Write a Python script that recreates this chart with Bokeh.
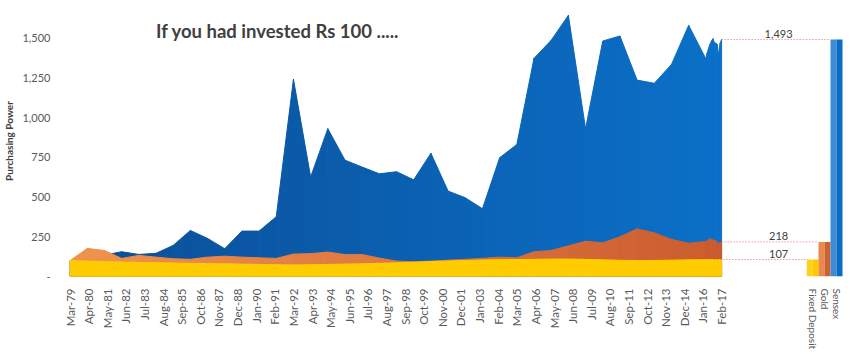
import math
from bokeh.plotting import figure
from bokeh.layouts import row
from bokeh.models import FixedTicker, Label, Range1d, NumeralTickFormatter
from bokeh.embed import file_html
from bokeh.resources import INLINE

# ---------------- data ----------------
tick_labels = ["Mar-79", "Apr-80", "May-81", "Jun-82", "Jul-83", "Aug-84", "Sep-85",
               "Oct-86", "Nov-87", "Dec-88", "Jan-90", "Feb-91", "Mar-92", "Apr-93",
               "May-94", "Jun-95", "Jul-96", "Aug-97", "Sep-98", "Oct-99", "Nov-00",
               "Dec-01", "Jan-03", "Feb-04", "Mar-05", "Apr-06", "May-07", "Jun-08",
               "Jul-09", "Aug-10", "Sep-11", "Oct-12", "Nov-13", "Dec-14", "Jan-16",
               "Feb-17"]

periods = [f"Mar-{y % 100:02d}" for y in range(1979, 2017)] + [
    "Apr-16", "May-16", "Jun-16", "Jul-16", "Aug-16", "Sep-16", "Oct-16",
    "Nov-16", "Dec-16", "Jan-17", "Feb-17"]

sensex = [100, 122, 135, 156, 139, 146, 196, 290, 240, 175,
          286, 286, 377, 1242, 626, 931, 733, 689, 647, 660,
          609, 776, 538, 496, 427, 748, 832, 1374, 1488, 1645,
          931, 1483, 1515, 1237, 1217, 1336, 1582, 1372,
          1410, 1440, 1465, 1485, 1498, 1473, 1470, 1460, 1393, 1470, 1493]

gold = [100, 177, 164, 114, 133, 122, 112, 108, 122, 128,
        122, 118, 114, 141, 144, 154, 138, 138, 116, 97,
        93, 97, 103, 108, 114, 122, 118, 156, 164, 193,
        222, 212, 250, 300, 275, 234, 210, 220,
        225, 232, 238, 234, 230, 227, 225, 215, 208, 214, 218]

fixed_deposit = [100, 97, 94, 91, 89, 87, 85, 83, 81, 80,
                 78, 76, 74, 73, 74, 76, 78, 80, 83, 86,
                 90, 94, 98, 101, 104, 106, 107, 108, 110, 110,
                 108, 105, 102, 100, 101, 103, 105, 106,
                 106, 106, 106, 106, 106, 106, 107, 107, 107, 107, 107]

bar_names = ["Fixed Deposit", "Gold", "Sensex"]
bar_values = [fixed_deposit[-1], gold[-1], sensex[-1]]

title_text = "If you had invested Rs 100 ....."
y_title = "Purchasing Power"

# ---------------- helpers ----------------
MONTHS = ["Jan", "Feb", "Mar", "Apr", "May", "Jun", "Jul", "Aug", "Sep", "Oct", "Nov", "Dec"]


def month_index(lbl):
    m, yy = lbl.split("-")
    yy = int(yy)
    year = 1900 + yy if yy >= 50 else 2000 + yy
    return (year - 1979) * 12 + MONTHS.index(m) - 2


def hex2rgb(h):
    h = h.lstrip("#")
    return tuple(int(h[i:i + 2], 16) for i in (0, 2, 4))


def lerp(c1, c2, t):
    a, b = hex2rgb(c1), hex2rgb(c2)
    return "#%02x%02x%02x" % tuple(int(round(a[i] + (b[i] - a[i]) * t)) for i in range(3))


xs = [month_index(s) for s in periods]
tick_x = [month_index(s) for s in tick_labels]
x_end = xs[-1]

FONT = "Lato"
LABEL_COLOR = "#595959"
DOT_COLOR = "#e06a6a"

y_range = Range1d(0, 1707)

p = figure(width=806, height=354, output_backend="svg", toolbar_location=None,
           x_range=Range1d(-3.9, 514.3), y_range=y_range,
           min_border_left=62, min_border_right=0, min_border_top=5, min_border_bottom=78,
           outline_line_color=None, background_fill_color="white", border_fill_color="white")
p.grid.visible = False


def gradient_area(vals, c_left, c_right):
    pxs, pys, cols = [], [], []
    for i in range(len(xs) - 1):
        x0, x1 = xs[i], xs[i + 1]
        pxs.append([x0, x1, x1, x0])
        pys.append([0, 0, vals[i + 1], vals[i]])
        cols.append(lerp(c_left, c_right, (x0 + x1) / 2 / x_end))
    p.patches(pxs, pys, fill_color=cols, line_color=cols, line_width=1)


gradient_area(sensex, "#0b4e97", "#0b70c8")
gradient_area(gold, "#f0934f", "#cb5c2f")
gradient_area(fixed_deposit, "#ffcc00", "#ffcc00")

# connectors + value labels on the main chart
for i, v in enumerate(bar_values):
    p.segment(x0=[x_end - (5 if i == 0 else 0)], x1=[514.3], y0=[v], y1=[v],
              line_color=DOT_COLOR, line_width=1, line_dash="1 2")
    p.add_layout(Label(x=494.8, y=v, text=f"{v:,}", text_align="center", text_baseline="bottom",
                       y_offset=2 if i < 2 else 1, text_font=FONT, text_font_size="11px",
                       text_color="#404040"))

# title
p.add_layout(Label(x=60, y=1546, text=title_text, text_align="left", text_baseline="middle",
                   text_font=FONT, text_font_style="bold", text_font_size="18.5px",
                   text_color="#404040"))

# axes of main chart
xa = p.xaxis[0]
xa.ticker = FixedTicker(ticks=tick_x)
xa.major_label_overrides = {t: s for t, s in zip(tick_x, tick_labels)}
xa.major_label_orientation = math.pi / 2
xa.axis_line_color = None
xa.major_tick_line_color = None
xa.minor_tick_line_color = None
xa.major_label_standoff = 6
xa.major_label_text_font = FONT
xa.major_label_text_font_size = "11.5px"
xa.major_label_text_color = LABEL_COLOR

ya = p.yaxis[0]
ya.ticker = FixedTicker(ticks=[0, 250, 500, 750, 1000, 1250, 1500])
ya.formatter = NumeralTickFormatter(format="0,0")
ya.major_label_overrides = {0: "-"}
ya.axis_line_color = None
ya.major_tick_line_color = None
ya.minor_tick_line_color = None
ya.major_label_standoff = 8
ya.major_label_text_font = FONT
ya.major_label_text_font_size = "11px"
ya.major_label_text_color = LABEL_COLOR
ya.axis_label = y_title
ya.axis_label_text_font = FONT
ya.axis_label_text_font_style = "bold"
ya.axis_label_text_font_size = "10px"
ya.axis_label_text_color = "#404040"
ya.axis_label_standoff = 4

# ---------------- right-hand bars ----------------
q = figure(width=44, height=354, output_backend="svg", toolbar_location=None,
           x_range=Range1d(0, 3.5), y_range=y_range,
           min_border_left=0, min_border_right=2, min_border_top=5, min_border_bottom=78,
           outline_line_color=None, background_fill_color="white", border_fill_color="white")
q.grid.visible = False
q.yaxis.visible = False

bar_colors = [("#ffd21a", "#ffc800"), ("#e98a4c", "#cc6132"), ("#3f8cd4", "#0b6cc4")]
for i, v in enumerate(bar_values):
    cl, cr = bar_colors[i]
    q.quad(left=[i], right=[i + 0.5], bottom=[0], top=[v], fill_color=cl, line_color=None)
    q.quad(left=[i + 0.5], right=[i + 1], bottom=[0], top=[v], fill_color=cr, line_color=None)
    if i > 0:
        q.segment(x0=[0], x1=[i], y0=[v], y1=[v], line_color=DOT_COLOR, line_width=1,
                  line_dash="1 2")

qa = q.xaxis[0]
qa.ticker = FixedTicker(ticks=[0.5, 1.5, 2.5])
qa.major_label_overrides = {0.5: bar_names[0], 1.5: bar_names[1], 2.5: bar_names[2]}
qa.major_label_orientation = -math.pi / 2
qa.axis_line_color = None
qa.major_tick_line_color = None
qa.minor_tick_line_color = None
qa.major_label_standoff = 6
qa.major_label_text_font = FONT
qa.major_label_text_font_size = "10px"
qa.major_label_text_color = LABEL_COLOR

layout = row(p, q, spacing=0)
open("out.html", "w").write(file_html(layout, INLINE))
